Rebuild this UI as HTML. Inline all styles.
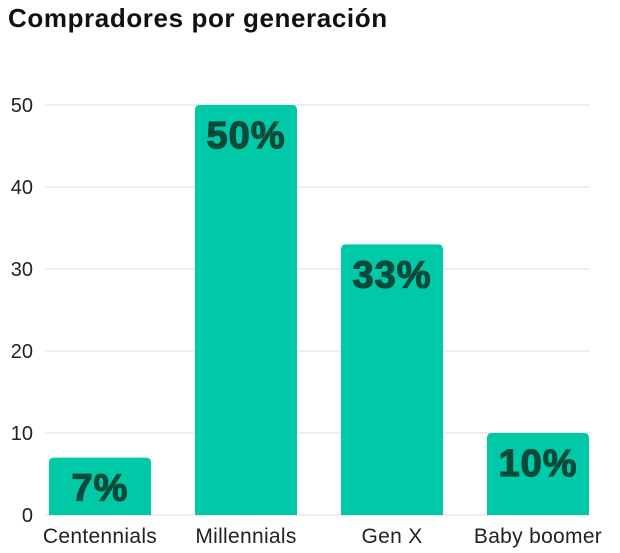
<!DOCTYPE html>
<html><head><meta charset="utf-8"><style>
html,body{margin:0;padding:0;background:#fff;}
body{width:620px;height:553px;overflow:hidden;position:relative;font-family:"Liberation Sans",sans-serif;}
#title{position:absolute;left:8px;top:3px;font-size:26px;font-weight:bold;color:#111;margin:0;letter-spacing:0.6px;}
svg{position:absolute;left:0;top:0;}
</style></head><body>
<h1 id="title">Compradores por generación</h1>
<svg id="chart" width="620" height="553"></svg>
<script>
const categories=["Centennials","Millennials","Gen X","Baby boomer"];
const values=[7,50,33,10];
const valueLabels=["7%","50%","33%","10%"];
const ticks=[0,10,20,30,40,50];
const NS="http://www.w3.org/2000/svg";
const svg=document.getElementById('chart');
const y0=515,pxPerUnit=8.2;
function y(v){return y0-v*pxPerUnit;}
function x(i){return 49+i*146;}
const bw=102;
function el(t,a){const e=document.createElementNS(NS,t);for(const k in a)e.setAttribute(k,a[k]);svg.appendChild(e);return e;}
ticks.forEach(t=>{
  const g=el('line',{x1:45,x2:590,y1:y(t),y2:y(t),stroke:'#dddddd','stroke-width':1});
  
  
  const l=el('text',{x:33,y:y(t)+7,'text-anchor':'end','font-size':20,fill:'#222','font-family':'Liberation Sans, sans-serif'});
  l.textContent=t;
  
  
});
values.forEach((v,i)=>{
  const top=y(v),r=5,x0=x(i);
  const p=el('path',{d:`M${x0},${y0} V${top+r} Q${x0},${top} ${x0+r},${top} H${x0+bw-r} Q${x0+bw},${top} ${x0+bw},${top+r} V${y0} Z`,fill:'#00c9a7'});
  
  
  const t=el('text',{x:x0+bw/2,y:top+43,'text-anchor':'middle','font-size':38,'font-weight':'bold',fill:'#0b4a3a','font-family':'Liberation Sans, sans-serif','letter-spacing':'1','stroke':'#0b4a3a','stroke-width':'1.2'});
  t.textContent=valueLabels[i];
  
  
  const c=el('text',{x:x0+bw/2,y:543,'text-anchor':'middle','font-size':21,fill:'#222','font-family':'Liberation Sans, sans-serif','letter-spacing':'0.3'});
  c.textContent=categories[i];
  
  
});
</script>
</body></html>
